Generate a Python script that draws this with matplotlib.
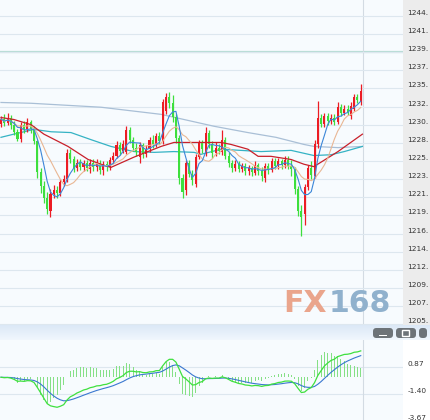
import numpy as np
import pandas as pd
import matplotlib
matplotlib.use("Agg")
import matplotlib.pyplot as plt
from matplotlib.patches import FancyBboxPatch, Rectangle

# candle data (price), one entry per bar
opens = [1230.6, 1231.2, 1230.7, 1231.3, 1230.5, 1229.6, 1228.7, 1230.4, 1229.9, 1230.8,
         1230.0, 1228.4, 1224.5, 1222.8, 1221.2, 1219.6, 1221.7, 1222.3, 1221.9, 1223.2,
         1223.6, 1226.9, 1226.2, 1225.0, 1225.7, 1225.2, 1225.6, 1224.9, 1225.7, 1225.1,
         1225.6, 1224.8, 1225.5, 1225.1, 1226.0, 1226.6, 1227.9, 1227.2, 1227.0, 1229.8,
         1228.6, 1227.6, 1226.4, 1227.9, 1226.8, 1227.4, 1228.5, 1228.0, 1229.1, 1228.4,
         1232.2, 1234.0, 1233.2, 1231.5, 1228.8, 1223.8, 1222.3, 1225.6, 1224.3, 1223.0,
         1226.4, 1228.2, 1226.9, 1229.5, 1228.0, 1226.9, 1227.6, 1227.0, 1228.6, 1226.6,
         1225.6, 1225.0, 1225.5, 1224.9, 1225.3, 1224.6, 1225.0, 1224.4, 1225.4, 1224.7,
         1223.8, 1225.3, 1224.8, 1225.9, 1225.3, 1225.9, 1225.4, 1226.0, 1225.3, 1224.9,
         1222.4, 1219.6, 1219.2, 1222.6, 1225.0, 1224.0, 1228.0, 1231.4, 1230.6, 1231.6,
         1231.0, 1231.4, 1230.8, 1232.7, 1232.0, 1232.5, 1231.6, 1232.5, 1234.0, 1233.3]
closes = [1231.2, 1230.7, 1231.3, 1230.5, 1229.6, 1228.7, 1230.4, 1229.9, 1230.8, 1230.0,
          1228.4, 1224.5, 1222.8, 1221.2, 1219.8, 1221.7, 1222.3, 1221.9, 1223.2, 1223.6,
          1226.9, 1226.2, 1225.0, 1225.7, 1225.2, 1225.6, 1225.0, 1225.7, 1225.1, 1225.6,
          1224.8, 1225.5, 1225.1, 1226.0, 1226.6, 1227.9, 1227.2, 1228.0, 1229.8, 1228.6,
          1227.6, 1227.0, 1227.9, 1226.8, 1227.4, 1228.5, 1228.0, 1229.1, 1228.4, 1233.4,
          1234.0, 1233.2, 1231.5, 1228.8, 1223.8, 1222.0, 1225.6, 1224.3, 1223.5, 1226.4,
          1228.2, 1227.4, 1229.5, 1228.0, 1226.9, 1227.6, 1227.2, 1228.6, 1226.6, 1225.6,
          1225.0, 1225.5, 1224.9, 1225.3, 1224.6, 1225.0, 1224.5, 1225.4, 1224.7, 1224.0,
          1225.3, 1224.8, 1225.9, 1225.3, 1225.9, 1225.4, 1226.0, 1225.3, 1224.9, 1222.4,
          1219.6, 1218.8, 1222.6, 1225.0, 1224.2, 1228.0, 1231.4, 1230.6, 1231.6, 1231.0,
          1231.4, 1230.8, 1232.7, 1232.0, 1232.5, 1232.1, 1232.9, 1234.0, 1233.6, 1234.7]
highs = [1231.6, 1231.8, 1232.0, 1231.7, 1230.9, 1230.0, 1230.8, 1230.9, 1231.3, 1231.1,
         1230.3, 1228.6, 1225.0, 1223.4, 1222.0, 1222.4, 1222.9, 1222.8, 1223.6, 1224.1,
         1227.4, 1227.4, 1226.6, 1226.2, 1226.1, 1226.0, 1226.0, 1226.2, 1226.1, 1226.2,
         1226.0, 1225.9, 1225.9, 1226.4, 1227.0, 1228.4, 1228.3, 1228.5, 1230.3, 1230.2,
         1229.0, 1228.2, 1228.3, 1228.2, 1227.9, 1228.9, 1229.2, 1229.5, 1229.6, 1233.8,
         1234.5, 1234.6, 1234.3, 1231.9, 1229.2, 1224.3, 1226.0, 1226.0, 1224.8, 1226.8,
         1228.6, 1228.6, 1230.2, 1229.8, 1228.4, 1228.3, 1228.1, 1229.8, 1228.9, 1227.0,
         1226.0, 1226.0, 1225.9, 1225.7, 1225.6, 1225.4, 1225.3, 1225.9, 1225.7, 1225.1,
         1225.6, 1225.6, 1226.3, 1226.3, 1226.3, 1226.2, 1226.5, 1226.6, 1226.0, 1225.2,
         1222.8, 1220.4, 1223.0, 1225.4, 1225.9, 1228.6, 1233.5, 1231.9, 1232.0, 1232.0,
         1231.9, 1231.8, 1233.3, 1233.1, 1233.0, 1233.0, 1233.3, 1234.4, 1234.4, 1235.6]
lows = [1230.2, 1230.3, 1230.4, 1230.0, 1229.2, 1228.4, 1228.3, 1229.4, 1229.6, 1229.5,
        1228.0, 1223.8, 1221.9, 1220.6, 1219.2, 1218.9, 1221.2, 1221.3, 1221.5, 1222.8,
        1223.3, 1225.6, 1224.5, 1224.7, 1224.8, 1224.7, 1224.6, 1224.4, 1224.7, 1224.6,
        1224.3, 1224.2, 1224.6, 1224.8, 1225.6, 1226.3, 1226.7, 1226.9, 1226.8, 1228.2,
        1227.2, 1226.5, 1225.6, 1226.3, 1226.4, 1227.1, 1227.6, 1227.7, 1228.0, 1228.1,
        1231.8, 1232.6, 1230.8, 1228.2, 1223.0, 1221.3, 1221.6, 1223.9, 1222.9, 1222.6,
        1226.1, 1226.9, 1226.6, 1227.6, 1226.3, 1226.6, 1226.8, 1226.7, 1226.2, 1225.1,
        1224.5, 1224.7, 1224.5, 1224.5, 1224.1, 1224.2, 1224.0, 1224.1, 1224.2, 1223.4,
        1223.3, 1224.3, 1224.5, 1224.9, 1224.9, 1224.9, 1225.0, 1224.9, 1224.0, 1221.8,
        1219.0, 1216.4, 1217.8, 1222.2, 1223.6, 1223.7, 1227.6, 1230.2, 1230.2, 1230.5,
        1230.6, 1230.4, 1230.6, 1231.6, 1231.7, 1231.7, 1231.2, 1232.2, 1233.2, 1233.0]

# slower moving averages, read as (bar index, price) vertices
ma_red_x = [0, 3.9, 9.1, 13, 20.3, 26.4, 30.3, 33.3, 40.3, 42.4, 48.5, 52.4, 56.7, 60.6,
            66.7, 69.7, 74.8, 77.9, 81.8, 87.9, 91.8, 94.8, 102.1, 109.5]
ma_red_y = [1231.4, 1231.15, 1230.5, 1229.3, 1227.75, 1226.1, 1225.5, 1225.1, 1226.4, 1226.75,
            1227.75, 1228.25, 1228.25, 1228.25, 1228.25, 1228.0, 1227.4, 1226.5, 1226.5, 1226.1,
            1225.5, 1225.2, 1227.1, 1229.3]
ma_teal_x = [0, 3.9, 10, 15.2, 21.2, 27.3, 33.3, 40.3, 46.4, 52.4, 58.5, 60.6, 66.7, 72.7,
             78.8, 87.9, 94.8, 100, 104, 109.5]
ma_teal_y = [1228.9, 1229.3, 1229.9, 1229.6, 1229.5, 1228.6, 1227.75, 1227.1, 1227.0, 1227.1,
             1227.0, 1226.75, 1227.4, 1227.25, 1227.1, 1227.25, 1226.6, 1226.7, 1227.1, 1227.75]
ma_gray_x = [0, 9.1, 30.3, 48.5, 64.5, 74.8, 83.3, 91.8, 94.8, 102.1, 109.5]
ma_gray_y = [1233.3, 1233.2, 1232.7, 1231.8, 1230.3, 1229.5, 1228.9, 1228.0, 1227.75, 1227.6, 1227.75]

price_ticks = [1205.3 + 2.29 * k for k in range(18)]
macd_ticks = [0.87, -1.40, -3.67]

W, H = 430, 420
fig = plt.figure(figsize=(W / 100, H / 100), dpi=100)
fig.patch.set_facecolor("white")

bg = "#f7fbfe"
grid_c = "#dde7ef"
red = "#ec1c24"
green = "#3ddf3d"

# right label strip
fig.add_artist(Rectangle((403 / W, 95 / H), 27 / W, 325 / H, transform=fig.transFigure,
                         facecolor="#ececec", edgecolor="none", zorder=0))

# ---- main price panel
ax = fig.add_axes([0, 95 / H, 403 / W, 325 / H])
ax.set_facecolor(bg)
ax.set_xlim(-0.3, 121.8)
ax.set_ylim(1205.2, 1246.24)
for s in ax.spines.values():
    s.set_visible(False)
ax.set_xticks([])
ax.yaxis.tick_right()
ax.set_yticks(price_ticks)
ax.set_yticklabels([f"{int(v)}." for v in price_ticks])
ax.tick_params(axis="y", length=0, pad=3, labelsize=5.3, labelcolor="#333333")
for lbl in ax.get_yticklabels():
    lbl.set_va("bottom")
ax.grid(axis="y", color=grid_c, lw=0.8)
ax.axhline(price_ticks[15], color="#b8ddd6", lw=1.6, zorder=1)
ax.axvline(109.7, color="#d3dbe3", lw=0.8, zorder=1)

idx = np.arange(len(closes))
o = np.array(opens)
c = np.array(closes)
cols = [red if cc >= oo else green for oo, cc in zip(o, c)]
ax.vlines(idx, lows, highs, colors=cols, lw=0.9, zorder=3)
ax.bar(idx, np.maximum(np.abs(c - o), 0.08), bottom=np.minimum(o, c), width=0.62,
       color=cols, zorder=3)

close_s = pd.Series(closes)
ax.plot(ma_gray_x, ma_gray_y, color="#a9bfd6", lw=0.9, zorder=2)
ax.plot(ma_teal_x, ma_teal_y, color="#35b3c4", lw=0.9, zorder=2)
ax.plot(ma_red_x, ma_red_y, color="#c8202a", lw=0.9, zorder=4)
ax.plot(idx, close_s.rolling(10, min_periods=1).mean(), color="#e9b794", lw=0.8, zorder=4)
ax.plot(idx, close_s.rolling(5, min_periods=1).mean(), color="#3b86d8", lw=0.8, zorder=4)

# watermark
fig.text(283 / W, (420 - 304) / H, "FX", color="#eaa58c", fontsize=21.5,
         fontweight="bold", va="center", ha="left")
fig.text(329 / W, (420 - 304) / H, "168", color="#90b1cd", fontsize=21.5,
         fontweight="bold", va="center", ha="left")

# separator bar with window buttons
top_c = np.array([0.86, 0.91, 0.965])
bot_c = np.array([0.94, 0.965, 0.99])
for k in range(15):
    shade = top_c + (bot_c - top_c) * k / 14
    fig.add_artist(Rectangle((0, (420 - 326 - k) / H), 1, 1 / H, transform=fig.transFigure,
                             facecolor=shade, edgecolor="none"))
for bx, bw in [(373, 20), (396, 20), (419, 8)]:
    fig.add_artist(FancyBboxPatch((bx / W, (420 - 338) / H), bw / W, 10 / H,
                                  boxstyle="round,pad=0,rounding_size=0.008",
                                  transform=fig.transFigure, facecolor="#6d7378",
                                  edgecolor="none"))
fig.add_artist(Rectangle((379 / W, (420 - 336) / H), 8 / W, 1.5 / H, transform=fig.transFigure,
                         facecolor="white", edgecolor="none"))
fig.add_artist(Rectangle((402 / W, (420 - 336) / H), 7 / W, 6 / H, transform=fig.transFigure,
                         facecolor="none", edgecolor="white", lw=1))

# ---- MACD panel
ax2 = fig.add_axes([0, -2 / H, 403 / W, 82 / H])
ax2.set_facecolor(bg)
ax2.set_xlim(-0.3, 121.8)
ax2.set_ylim(-3.76, 3.13)
for s in ax2.spines.values():
    s.set_visible(False)
ax2.set_xticks([])
ax2.yaxis.tick_right()
ax2.set_yticks(macd_ticks)
ax2.set_yticklabels([f"{v:.2f}" for v in macd_ticks])
ax2.tick_params(axis="y", length=0, pad=3, labelsize=5.3, labelcolor="#333333")
for lbl in ax2.get_yticklabels():
    lbl.set_va("bottom")
ax2.grid(axis="y", color=grid_c, lw=0.8)
ax2.axvline(109.7, color="#d3dbe3", lw=0.8)

ema12 = close_s.ewm(span=12, adjust=False).mean()
ema26 = close_s.ewm(span=26, adjust=False).mean()
dif = ema12 - ema26
dea = dif.ewm(span=9, adjust=False).mean()
hist = 2 * (dif - dea)
ax2.bar(idx, hist, width=0.3, color="#86e086", zorder=2)
ax2.plot(idx, dea, color="#3a78d0", lw=0.8, zorder=3)
ax2.plot(idx, dif, color="#3fe03f", lw=0.9, zorder=3)

fig.savefig("out.png", dpi=100, facecolor=fig.get_facecolor())
